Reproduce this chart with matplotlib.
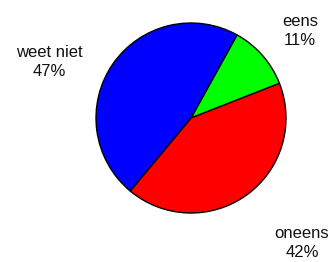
import matplotlib
matplotlib.use('Agg')
import matplotlib.pyplot as plt

# data
categories = ['eens', 'oneens', 'weet niet']
values = [11, 42, 47]
colors = ['#00ff00', '#ff0000', '#0000ff']

# label positions (pixels, origin bottom-left)
label_pos = [(300, 231), (302, 19), (49, 200)]


def main():
    fig = plt.figure(figsize=(3.34, 2.62), dpi=100)
    ax = fig.add_axes([0, 0, 1, 1])
    ax.axis('off')

    ax.pie(values, colors=colors, startangle=61, counterclock=False,
           center=(191, 144), radius=95,
           wedgeprops=dict(edgecolor='black', linewidth=1.0))
    ax.set_xlim(0, 334)
    ax.set_ylim(0, 262)
    ax.set_aspect('equal')

    for cat, val, (x, y) in zip(categories, values, label_pos):
        ax.text(x, y, f'{cat}\n{val}%', ha='center', va='center',
                fontsize=12, family='Liberation Sans', linespacing=1.35,
                color='#111111')

    fig.savefig('out.png', dpi=100)
    plt.close(fig)


main()
